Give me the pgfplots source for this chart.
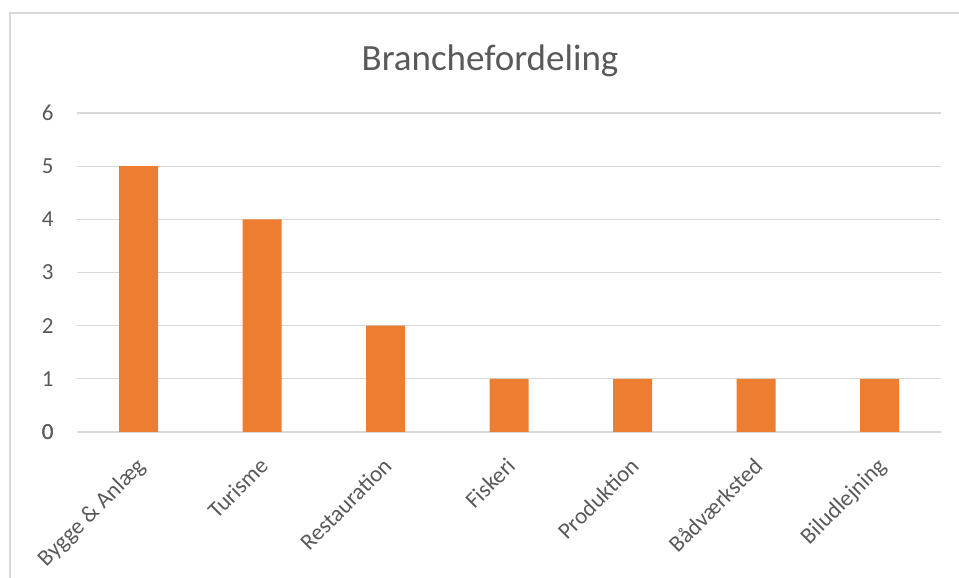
\documentclass[border=0pt]{standalone}
\usepackage{fontspec}
\setmainfont{Carlito}
\usepackage{pgfplots}
\pgfplotsset{compat=1.18}
\definecolor{barorange}{HTML}{ED7D31}
\definecolor{gridgrey}{HTML}{D9D9D9}
\definecolor{txtgrey}{HTML}{595959}
\begin{document}
\begin{tikzpicture}
\useasboundingbox (-77pt,-146pt) rectangle (882pt,432pt);
\draw[gridgrey, line width=1.5pt] (-67pt,-146pt) -- (-67pt,419pt) -- (882pt,419pt);
\begin{axis}[
  at={(0pt,0pt)}, anchor=south west,
  scale only axis,
  width=864.5pt, height=319pt,
  xmin=-0.5, xmax=6.5, ymin=0, ymax=6,
  axis line style={draw=none},
  ymajorgrids, grid style={gridgrey, line width=1.2pt},
  major tick length=0pt,
  ytick={0,1,2,3,4,5,6},
  xtick=data,
  xticklabels={Bygge \& Anlæg, Turisme, Restauration, Fiskeri, Produktion, Bådværksted, Biludlejning},
  tick label style={font=\fontsize{23}{26}\selectfont, text=txtgrey},
  /pgf/number format/assume math mode=true,
  yticklabel style={anchor=east, xshift=-20pt},
  xticklabel style={xshift=-4pt, yshift=-24pt, rotate=45, anchor=north east, inner sep=0pt},
  extra y ticks={0}, extra y tick style={grid style={gridgrey, line width=1.5pt}},
  clip=false,
]
\addplot[ybar, bar width=39pt, fill=barorange, draw=none] coordinates {
(0,5) (1,4) (2,2) (3,1) (4,1) (5,1) (6,1)
};
\end{axis}
\node[text=txtgrey, font=\fontsize{37}{41}\selectfont] at (413pt,371pt) {Branchefordeling};
\end{tikzpicture}
\end{document}
